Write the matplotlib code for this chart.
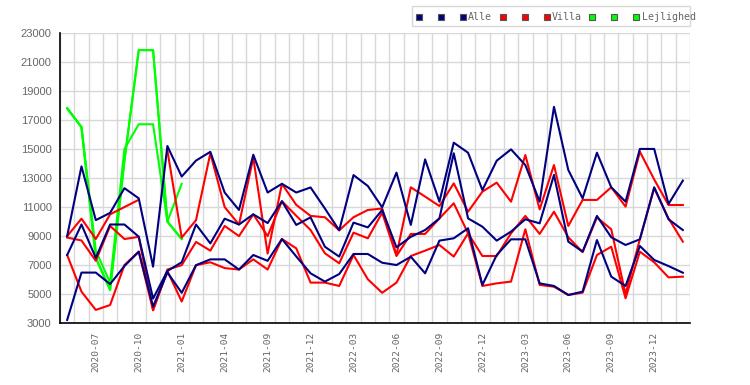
import numpy as np
import matplotlib
matplotlib.use("Agg")
import matplotlib.pyplot as plt
from matplotlib.lines import Line2D
from matplotlib.patches import Rectangle

nan = np.nan
months = ['2020-05', '2020-06', '2020-07', '2020-08', '2020-09', '2020-10', '2020-11', '2020-12',
          '2021-01', '2021-02', '2021-03', '2021-04', '2021-07', '2021-08', '2021-09', '2021-10',
          '2021-11', '2021-12', '2022-01', '2022-02', '2022-03', '2022-04', '2022-05', '2022-06',
          '2022-07', '2022-08', '2022-09', '2022-10', '2022-11', '2022-12', '2023-01', '2023-02',
          '2023-03', '2023-04', '2023-05', '2023-06', '2023-07', '2023-08', '2023-09', '2023-10',
          '2023-11', '2023-12', '2024-01', '2024-02']

alle_hi = [9000, 13800, 10100, 10600, 12300, 11600, 6900, 15200, 13100, 14200, 14800, 12000, 10800,
           14600, 12000, 12600, 12000, 12350, 10900, 9400, 13200, 12450, 10980, 13370, 9770, 14280,
           11370, 15430, 14740, 12170, 14190, 14970, 13890, 11370, 17900, 13550, 11600, 14740, 12360,
           11370, 15000, 15000, 11210, 12820]
alle_mid = [7700, 9800, 7500, 9800, 9800, 8960, 4700, 6600, 7200, 9800, 8500, 10200, 9800, 10500,
            9900, 11400, 9770, 10290, 8270, 7590, 9930, 9600, 10800, 8230, 8950, 9420, 10220, 14700,
            10220, 9650, 8690, 9310, 10160, 9880, 13210, 8620, 7930, 10390, 8920, 8390, 8780, 12360,
            10160, 9420]
alle_lo = [3230, 6490, 6490, 5700, 6940, 7930, 4150, 6500, 5100, 7000, 7400, 7400, 6700, 7700, 7300,
           8800, 7600, 6440, 5870, 6390, 7770, 7770, 7170, 7010, 7580, 6440, 8690, 8850, 9540, 5640,
           7700, 8780, 8780, 5750, 5570, 4950, 5180, 8730, 6210, 5570, 8320, 7360, 6940, 6480]

villa_hi = [9000, 10200, 8800, 10500, 11000, 11500, nan, 14900, 8900, 10100, 14700, 11000, 9800,
            14400, 7800, 12600, 11150, 10390, 10300, 9400, 10300, 10800, 10900, 7700, 12360, 11720,
            11070, 12630, 10680, 12060, 12680, 11370, 14580, 10840, 13890, 9700, 11490, 11490, 12360,
            11030, 14810, 12900, 11140, 11140]
villa_mid = [8900, 8700, 7300, 9700, 8800, 8950, 3900, 6700, 7000, 8600, 8000, 9700, 9000, 10500,
             9000, 11400, 10400, 9420, 7820, 7130, 9240, 8850, 10610, 7630, 9150, 9150, 10220, 11260,
             9190, 7630, 7630, 9190, 10390, 9150, 10680, 8920, 7900, 10290, 9470, 5000, 8800, 12300,
             10220, 8620]
villa_lo = [7700, 5180, 3920, 4260, 7010, 7930, 3900, 6600, 4500, 7000, 7200, 6800, 6700, 7400, 6700,
            8800, 8160, 5800, 5800, 5570, 7700, 6030, 5100, 5800, 7630, 8000, 8390, 7590, 9190, 5570,
            5750, 5870, 9470, 5640, 5520, 4950, 5110, 7700, 8270, 4720, 7930, 7200, 6160, 6210]

lej_hi = [17800, 16500, 8000, 5800, 15000, 16700, 16700, 10000, 12600]
lej_mid = [17800, 16500, 7500, 5300, 14200, 21800, 21800, 10000, 8800]
lej_lo = [17800, 16500, 7500, 5300, 14200, 21800, 21800, 10000, 8800]

yticks = list(range(3000, 23001, 2000))

NAVY, RED, GREEN = '#000080', '#ff0000', '#00ff00'
GRAY_TXT = '#666666'
GRID = '#d8d8d8'

fig = plt.figure(figsize=(7.5, 3.85), dpi=100)
ax = fig.add_axes([60 / 750, 1 - 323.3 / 385, 630 / 750, (323.3 - 32.7) / 385])

x_all = np.arange(len(months))
x_lej = np.arange(len(lej_hi))

lw = 1.5
for ys in (lej_hi, lej_mid, lej_lo):
    ax.plot(x_lej, ys, color=GREEN, lw=lw, zorder=3)
for ys in (villa_hi, villa_mid, villa_lo):
    ax.plot(x_all, ys, color=RED, lw=lw, zorder=4)
for ys in (alle_hi, alle_mid, alle_lo):
    ax.plot(x_all, ys, color=NAVY, lw=lw, zorder=5)

ax.set_xlim(-0.5, len(months) - 0.5)
ax.set_ylim(3000, 23000)
ax.set_yticks(yticks)
ax.set_yticklabels([str(v) for v in yticks], fontfamily='Liberation Sans', fontsize=8, color=GRAY_TXT)

tick_idx = list(range(2, len(months), 3))
ax.set_xticks(tick_idx)
ax.set_xticklabels([months[i] for i in tick_idx], rotation=90, fontfamily='DejaVu Sans Mono',
                   fontsize=6.8, color=GRAY_TXT)
ax.set_xticks(np.arange(-0.5, len(months) + 0.5, 1), minor=True)
ax.tick_params(axis='both', which='both', length=0)
ax.tick_params(axis='x', which='major', pad=6)
ax.tick_params(axis='y', pad=6)

ax.grid(True, which='minor', axis='x', color=GRID, lw=1)
ax.grid(True, which='major', axis='y', color=GRID, lw=1)
ax.grid(False, which='major', axis='x')
ax.set_axisbelow(True)

for s in ('top', 'right'):
    ax.spines[s].set_visible(False)
for s in ('left', 'bottom'):
    ax.spines[s].set_color('black')
    ax.spines[s].set_linewidth(1.2)

# legend (drawn manually to mimic the reference layout)
W, H = 750, 385
fig.patches.append(Rectangle((412 / W, 1 - 26 / H), 278 / W, 20 / H, transform=fig.transFigure,
                             facecolor='white', edgecolor='#d8d8d8', lw=1))
legend_groups = [(NAVY, 'Alle', [418.5, 440.5, 462.5], 468),
                 (RED, 'Villa', [502.5, 524.5, 546.5], 552),
                 (GREEN, 'Lejlighed', [592, 614, 636], 642)]
for col, lab, xs, tx in legend_groups:
    for xx in xs:
        fig.add_artist(Line2D([xx / W], [1 - 16.5 / H], marker='s', markersize=4.6,
                              markerfacecolor=col, markeredgecolor='#555555', markeredgewidth=0.8,
                              linestyle='none', transform=fig.transFigure))
    fig.text(tx / W, 1 - 16.5 / H, lab, fontfamily='DejaVu Sans Mono', fontsize=7.2,
             color=GRAY_TXT, va='center', ha='left')

fig.savefig('out.png', dpi=100)
